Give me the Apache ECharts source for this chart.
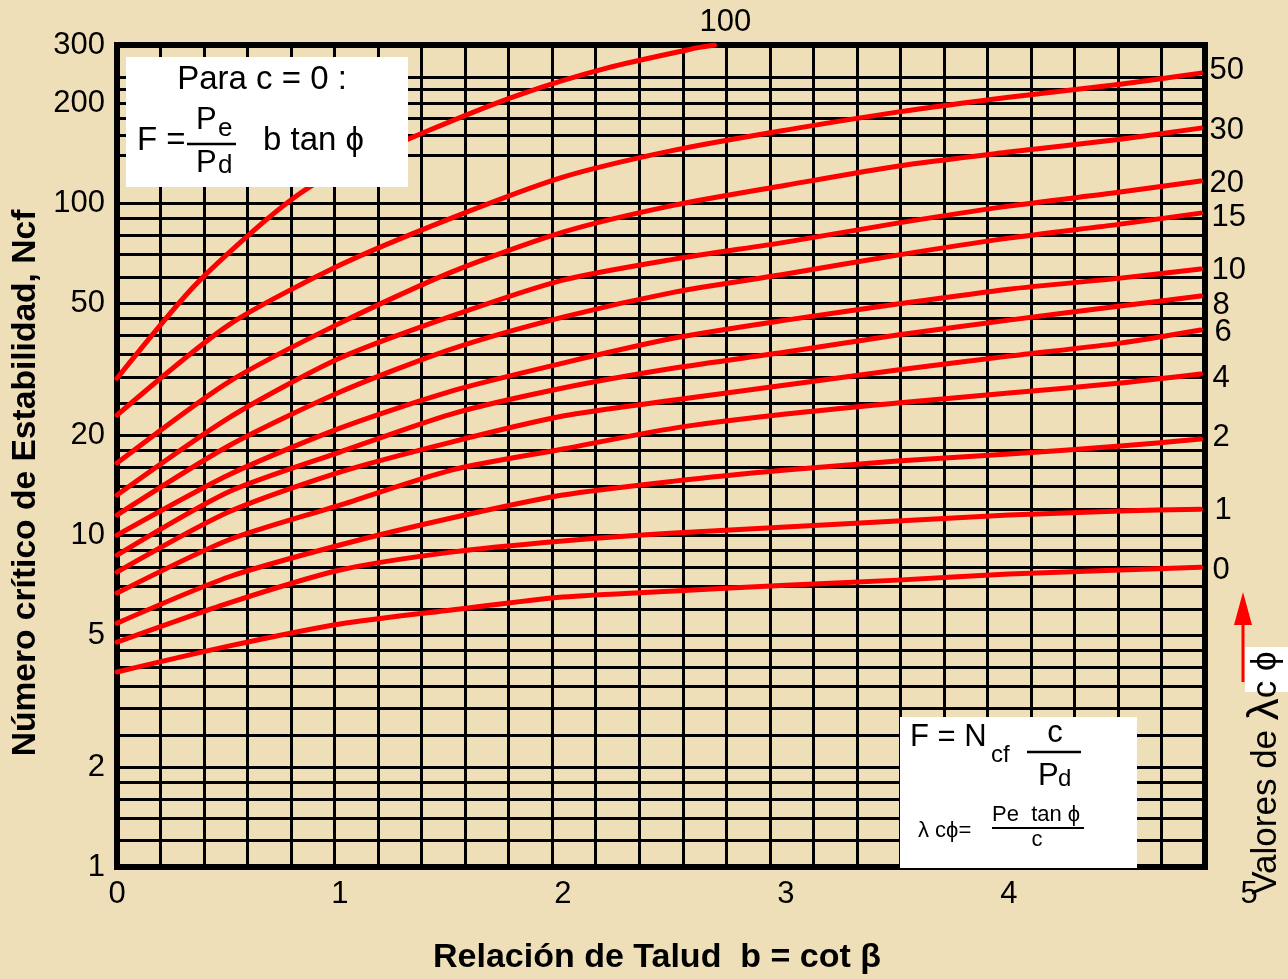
<!DOCTYPE html>
<html>
<head>
<meta charset="utf-8">
<title>Número crítico de Estabilidad, Ncf</title>
<script src="https://cdn.jsdelivr.net/npm/echarts@6/dist/echarts.min.js"></script>
<style>
  html, body { margin: 0; padding: 0; background: #eedfb9; }
  #chart { width: 1288px; height: 979px; }
</style>
</head>
<body>
<div id="chart"></div>
<script>
const FONT = '"Liberation Sans", Arial, Helvetica, sans-serif';

// Slope ratio b = cot β at which each curve is sampled
const slopeRatio = [0, 0.5, 1, 1.5, 2, 2.5, 3, 3.5, 4, 4.5, 4.86];

// Critical stability number Ncf for each value of λcφ
const ncfL0  = [3.87, 4.63, 5.40, 5.95, 6.51, 6.79, 7.07, 7.32, 7.64, 7.85, 8.01];
const ncfL1  = [4.76, 6.24, 7.85, 8.89, 9.60, 10.15, 10.58, 11.03, 11.50, 11.82, 11.98];
const ncfL2  = [5.43, 7.48, 9.34, 11.26, 13.21, 14.55, 15.71, 16.72, 17.56, 18.56, 19.48];
const ncfL4  = [6.69, 9.67, 12.32, 15.71, 18.18, 21.02, 23.17, 25.00, 26.80, 28.73, 30.58];
const ncfL6  = [7.74, 11.74, 15.49, 19.08, 22.85, 25.53, 28.33, 31.44, 34.64, 37.91, 41.50];
const ncfL8  = [8.71, 13.50, 17.80, 23.17, 27.75, 31.88, 35.62, 40.08, 44.47, 49.01, 52.53];
const ncfL10 = [10.0, 15.18, 21.02, 27.18, 33.00, 39.26, 44.47, 49.70, 55.13, 59.51, 63.36];
const ncfL15 = [11.50, 18.56, 26.99, 36.37, 45.40, 54.00, 61.20, 69.81, 78.56, 86.55, 93.43];
const ncfL20 = [13.21, 22.53, 34.17, 45.72, 58.70, 67.91, 76.41, 87.15, 98.07, 108.1, 116.7];
const ncfL30 = [16.49, 28.93, 43.55, 62.05, 81.89, 98.76, 113.4, 129.4, 142.7, 156.1, 168.5];
const ncfL50 = [23.00, 42.95, 65.13, 90.24, 119.9, 144.6, 166.2, 188.3, 208.9, 228.6, 246.8];

// λcφ = 100 leaves the chart through the top edge
const slopeRatioL100 = [0, 0.33, 0.6, 0.82, 1.0, 1.4, 1.8, 2.2, 2.6, 2.68];
const ncfL100 = [29.7, 54.8, 81.3, 107, 126, 166, 212, 256, 294, 300];

// Curve names (values of λcφ)
const lambdaLabels = ['0', '1', '2', '4', '6', '8', '10', '15', '20', '30', '50', '100'];

// Labelled values on the logarithmic Ncf axis
const yTickValues = [1, 2, 5, 10, 20, 50, 100, 200, 300];

// Horizontal rulings of the log paper
const yGridValues = [
  1.2, 1.4, 1.6, 1.8, 2, 2.5, 3, 3.5, 4, 4.5, 5, 6, 7, 8, 9, 10,
  12, 14, 16, 18, 20, 25, 30, 35, 40, 45, 50, 60, 70, 80, 90, 100,
  140, 160, 180, 200, 220, 240
];

const curveData = [
  [slopeRatio, ncfL0], [slopeRatio, ncfL1], [slopeRatio, ncfL2], [slopeRatio, ncfL4],
  [slopeRatio, ncfL6], [slopeRatio, ncfL8], [slopeRatio, ncfL10], [slopeRatio, ncfL15],
  [slopeRatio, ncfL20], [slopeRatio, ncfL30], [slopeRatio, ncfL50], [slopeRatioL100, ncfL100]
];

// Where each curve's name sits relative to the curve end
const endLabelOffsets = {
  '0': [4, 3], '1': [6, 1], '2': [4, -2], '4': [4, 4], '6': [6, 2], '8': [4, 9],
  '10': [3, 1], '15': [3, 4], '20': [1, 2], '30': [1, 2], '50': [1, -3], '100': [-23, -23]
};

const chart = echarts.init(document.getElementById('chart'), null, { renderer: 'canvas' });

const series = curveData.map(([bs, ncf], i) => {
  const name = lambdaLabels[i];
  const s = {
    name: name,
    type: 'line',
    xAxisIndex: 0,
    yAxisIndex: 0,
    data: bs.map((b, j) => [b, ncf[j]]),
    showSymbol: false,
    symbol: 'none',
    smooth: 0.25,
    z: 3,
    silent: true,
    lineStyle: { color: '#ff0000', width: 5, cap: 'round', join: 'round' },
    endLabel: {
      show: true,
      formatter: name,
      distance: 8,
      offset: endLabelOffsets[name],
      fontFamily: FONT,
      fontSize: 31,
      color: '#000'
    }
  };
  if (i === 0) {
    s.markLine = {
      silent: true,
      z: 1,
      symbol: ['none', 'none'],
      animation: false,
      label: { show: false },
      lineStyle: { color: '#000', width: 3, type: 'solid' },
      emphasis: { disabled: true },
      data: yGridValues.map(v => ({ yAxis: v }))
    };
  }
  return s;
});

// Overlay elements (formula boxes, titles); all drawn above the plot
const TOP = 100;
const txt = (x, y, text, size, align, extra) => ({
  type: 'text', x: x, y: y, z: TOP + 1, silent: true,
  style: Object.assign({ text: text, fontFamily: FONT, fontSize: size, fill: '#000', align: align, verticalAlign: 'middle' }, extra || {})
});
const rule = (x1, y1, x2, y2, w, color) => ({
  type: 'line', z: TOP + 1, silent: true,
  shape: { x1: x1, y1: y1, x2: x2, y2: y2 },
  style: { stroke: color || '#000', lineWidth: w }
});
const box = (x, y, w, h) => ({
  type: 'rect', z: TOP, silent: true,
  shape: { x: x, y: y, width: w, height: h },
  style: { fill: '#ffffff' }
});

const overlay = [
  // axis titles
  txt(657, 958, 'Relación de Talud  b = cot β', 34, 'center', { fontWeight: 'bold' }),
  Object.assign(txt(26, 483, 'Número crítico de Estabilidad, Ncf', 33.6, 'center', { fontWeight: 'bold' }), { rotation: Math.PI / 2 }),

  // right-hand title with its highlight and arrow
  box(1245, 647, 43, 45),
  Object.assign(txt(1266, 773, '{a|Valores de }{l|λ}{a|c ϕ}', 35, 'center', {
    rich: {
      a: { fontFamily: FONT, fontSize: 35, fill: '#000', color: '#000' },
      l: { fontFamily: FONT, fontSize: 44, fill: '#000', color: '#000' }
    }
  }), { rotation: Math.PI / 2 }),
  rule(1243, 682, 1243, 618, 3, '#ff0000'),
  {
    type: 'polygon', z: TOP + 1, silent: true,
    shape: { points: [[1243, 592], [1234, 625], [1252, 625]] },
    style: { fill: '#ff0000' }
  },

  // formula box, c = 0
  box(126, 57, 282, 130),
  txt(262, 80, 'Para c = 0 :', 33, 'center'),
  txt(137, 141, 'F =', 33, 'left'),
  txt(196, 120, 'P', 31, 'left'),
  txt(218, 129, 'e', 26, 'left'),
  rule(187, 144, 236, 144, 2.5),
  txt(196, 163, 'P', 31, 'left'),
  txt(218, 166, 'd', 26, 'left'),
  txt(263, 141, 'b tan ϕ', 33, 'left'),

  // formula box, general case
  box(900, 717, 237, 151),
  txt(910, 737, 'F = N', 31, 'left'),
  txt(991, 755, 'cf', 24, 'left'),
  txt(1055, 733, 'c', 31, 'center'),
  rule(1027, 752, 1081, 752, 2.5),
  txt(1038, 776, 'P', 31, 'left'),
  txt(1058, 779, 'd', 24, 'left'),
  txt(918, 831, 'λ cϕ=', 22, 'left'),
  txt(992, 815, 'Pe  tan ϕ', 22, 'left'),
  rule(992, 828, 1084, 828, 2),
  txt(1037, 840, 'c', 22, 'center')
];

const option = {
  backgroundColor: '#eedfb9',
  animation: false,
  grid: {
    left: 117, right: 83, top: 45, bottom: 112,
    show: true,
    borderColor: '#000',
    borderWidth: 6,
    backgroundColor: 'transparent'
  },
  xAxis: [
    {
      type: 'value',
      min: 0,
      max: 4.88,
      interval: 1,
      position: 'bottom',
      axisLine: { show: false },
      axisTick: { show: false },
      splitLine: { show: false },
      axisLabel: {
        margin: 12,
        fontFamily: FONT,
        fontSize: 31,
        color: '#000',
        formatter: v => (Number.isInteger(v) ? String(v) : '')
      }
    },
    {
      // ruling of the paper: one line every 0.2
      type: 'value',
      min: 0,
      max: 5,
      interval: 0.2,
      position: 'bottom',
      axisLine: { show: false },
      axisTick: { show: false },
      splitLine: { show: true, lineStyle: { color: '#000', width: 3 } },
      axisLabel: {
        margin: 12,
        formatter: v => (Math.abs(v - 5) < 1e-6 ? '{s|5}' : ''),
        rich: { s: { fontFamily: FONT, fontSize: 31, color: '#000', padding: [0, 0, 0, 88] } }
      }
    }
  ],
  yAxis: [
    {
      type: 'log',
      logBase: 10,
      min: 1,
      max: 300,
      axisLine: { show: false },
      axisTick: { show: false },
      splitLine: { show: false },
      minorSplitLine: { show: false },
      axisLabel: {
        customValues: yTickValues,
        margin: 12,
        fontFamily: FONT,
        fontSize: 31,
        color: '#000',
        formatter: v => String(Math.round(v))
      }
    }
  ],
  series: series,
  graphic: overlay
};

chart.setOption(option);
</script>
</body>
</html>
